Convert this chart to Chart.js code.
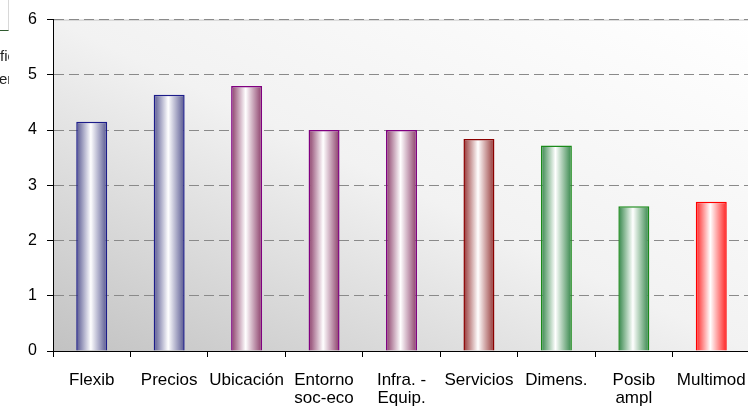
<!DOCTYPE html>
<html lang="es">
<head>
    <meta charset="UTF-8">
    <title>Valoración de factores</title>
    <style>
        * { margin: 0; padding: 0; box-sizing: border-box; }
        body { width: 748px; height: 411px; overflow: hidden; background: #fff; font-family: Arial, "Liberation Sans", sans-serif; position: relative; }
        #wrap { position: absolute; left: 0; top: 0; width: 750px; height: 411px; }
        /* fragment of the neighbouring box that sits under the chart */
        .side-box { position: absolute; left: 0; top: 0; width: 9px; height: 31px; background: #fff; border-right: 1px solid #d8d8d8; border-bottom: 1px solid #2f5a2f; }
        .side-text { position: absolute; left: 0; width: 9px; overflow: hidden; white-space: nowrap; font-size: 15px; line-height: 16px; color: #222; }
    </style>
</head>
<body>
    <div id="wrap"><canvas id="chart"></canvas></div>
    <div class="side-box"></div>
    <div class="side-text" style="top:48px;"><span>fic</span></div>
    <div class="side-text" style="top:71px;"><span style="margin-left:-1px;">er</span></div>

    <script src="https://cdn.jsdelivr.net/npm/chart.js"></script>
    <script>
        // Data
        const categories = ["Flexib", "Precios", "Ubicación", ["Entorno", "soc-eco"], ["Infra. -", "Equip."],
                            "Servicios", "Dimens.", ["Posib", "ampl"], "Multimod"];
        const scores = [4.15, 4.64, 4.80, 4.0, 4.0, 3.84, 3.72, 2.62, 2.70];
        const yTicks = [0, 1, 2, 3, 4, 5, 6];

        // Bar styling (outline colour + shaded edge colour of the cylinder look)
        const outlineColors = ["#1c1c8a", "#1c1c8a", "#800080", "#800080", "#800080", "#8b0000", "#1a8a1a", "#1a8a1a", "#ff0000"];
        const edgeColors = ["#55558f", "#55558f", "#8a3c68", "#8a3c68", "#8a3c68", "#953535", "#338548", "#338548", "#ff2020"];

        const BAR_FRACTION = 0.4;

        function barGradient(ctx) {
            const chart = ctx.chart;
            const area = chart.chartArea;
            if (!area) return edgeColors[ctx.dataIndex];
            const xs = chart.scales.x;
            const cx = xs.getPixelForValue(ctx.dataIndex);
            const half = (xs.width / categories.length) * BAR_FRACTION / 2;
            const g = chart.ctx.createLinearGradient(cx - half, 0, cx + half, 0);
            const c = edgeColors[ctx.dataIndex];
            g.addColorStop(0, c);
            g.addColorStop(0.47, "#ffffff");
            g.addColorStop(1, c);
            return g;
        }

        // Plot area shading: grey in the lower left corner fading to white at the upper right
        const plotBackground = {
            id: "plotBackground",
            beforeDraw(chart) {
                const { ctx, chartArea: a } = chart;
                const w = a.right - a.left, h = a.bottom - a.top;
                ctx.save();
                ctx.translate(a.left, a.bottom);
                ctx.scale(w, -h);
                const g = ctx.createLinearGradient(0, 0, 1, 1);
                g.addColorStop(0, "#c2c2c2");
                g.addColorStop(0.5, "#f2f2f2");
                g.addColorStop(1, "#ffffff");
                ctx.fillStyle = g;
                ctx.fillRect(0, 0, 1, 1);
                ctx.restore();
                ctx.save();
                ctx.strokeStyle = "#c8c8c8";
                ctx.lineWidth = 1;
                ctx.beginPath();
                ctx.moveTo(a.left, a.top + 0.5);
                ctx.lineTo(a.right, a.top + 0.5);
                ctx.stroke();
                ctx.restore();
            }
        };

        new Chart(document.getElementById("chart"), {
            type: "bar",
            data: {
                labels: categories,
                datasets: [{
                    data: scores,
                    backgroundColor: barGradient,
                    borderColor: outlineColors,
                    borderWidth: 1.5,
                    borderSkipped: "bottom",
                    categoryPercentage: BAR_FRACTION,
                    barPercentage: 1
                }]
            },
            options: {
                responsive: true,
                maintainAspectRatio: false,
                animation: false,
                layout: { padding: { top: 10, right: 0, left: 0, bottom: 0 } },
                plugins: {
                    legend: { display: false },
                    tooltip: { enabled: false }
                },
                scales: {
                    x: {
                        grid: { drawOnChartArea: false, drawTicks: true, tickLength: 6, tickColor: "#000", offset: true },
                        border: { color: "#000", width: 1 },
                        ticks: {
                            color: "#000",
                            font: { family: "Arial, 'Liberation Sans'", size: 17, lineHeight: 1.08 },
                            padding: 14,
                            maxRotation: 0,
                            autoSkip: false
                        },
                        afterFit(scale) {
                            scale.height = 60;
                            // the last label may run up to the page edge
                            scale.paddingLeft = 0;
                            scale.paddingRight = 0;
                        }
                    },
                    y: {
                        min: 0,
                        max: 6,
                        afterBuildTicks(scale) { scale.ticks = yTicks.map(v => ({ value: v })); },
                        grid: { color: "#8a8a8a", lineWidth: 1, tickLength: 6, tickColor: "#000", tickBorderDash: [] },
                        border: { color: "#000", width: 1, dash: [10, 5] },
                        ticks: {
                            color: "#000",
                            font: { family: "Arial, 'Liberation Sans'", size: 16 },
                            padding: 10
                        },
                        afterFit(scale) { scale.width = 53; }
                    }
                }
            },
            plugins: [plotBackground]
        });
    </script>
</body>
</html>
